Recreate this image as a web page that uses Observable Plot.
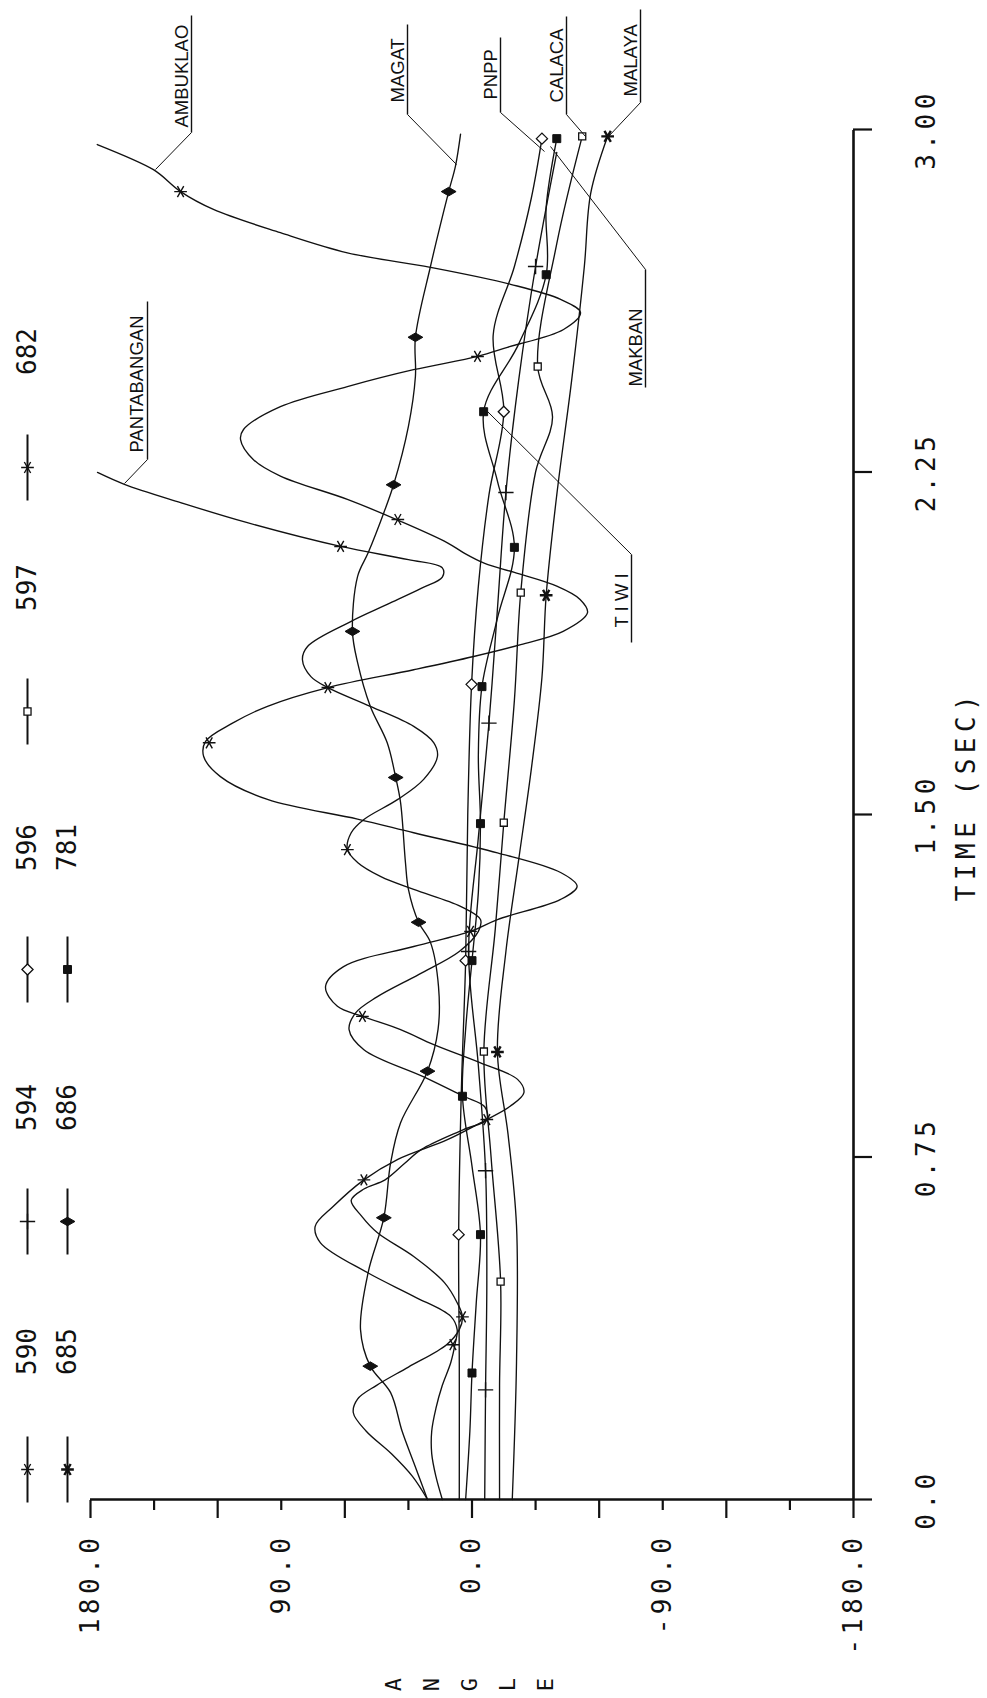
<!DOCTYPE html>
<html><head><meta charset="utf-8">
<script src="https://cdn.jsdelivr.net/npm/d3@7"></script>
<script src="https://cdn.jsdelivr.net/npm/@observablehq/plot@0.6"></script>
<style>
html,body{margin:0;padding:0;background:#fff;overflow:hidden;width:987px;height:1698px;}
#rot{position:absolute;left:0;top:0;width:1698px;height:987px;transform-origin:0 0;transform:translateY(1698px) rotate(-90deg);}
</style></head><body><div id="rot"></div>
<script>
// ---------------- data (time in s, rotor angle in degrees) ----------------
const t590 = [0,0.05,0.1,0.15,0.2,0.25,0.3,0.34,0.372,0.401,0.445,0.497,0.562,0.598,0.642,0.7,0.745,0.788,0.825,0.861,0.891,0.92,0.956,0.996,1.029,1.058,1.08,1.123,1.167,1.211,1.244,1.27,1.314,1.343,1.373,1.416,1.46,1.49,1.533,1.583,1.627,1.66,1.7,1.737,1.778,1.817,1.846,1.872,1.901,1.942,1.971,2.0,2.03,2.05,2.073,2.095,2.142,2.19,2.241,2.277,2.321,2.343,2.393,2.437,2.474,2.503,2.523,2.562,2.599,2.628,2.661,2.698,2.73,2.774,2.825,2.864,2.912,2.967];
const a590 = [14,17,19,19,17,14,10,8,7,10,27.5,49.4,71.5,74,65.4,51,35,11.6,-4,-18,-24.5,-21.5,-4,18,33.7,51.7,63.5,69.1,60.6,27.5,0.7,-12,-41.8,-49.6,-41.8,-12,27.5,54,96.5,118.7,126.6,125.7,113,96.5,68,27.5,-0.8,-23,-43,-54.5,-51,-40,-20,-6,3.9,11.6,33.7,58.8,90.4,103.1,109.2,107.8,90.4,58.8,27.6,-2.6,-16.7,-43.2,-51.2,-41.8,-18.2,19.6,58.8,90.4,122,137.5,150.3,176.8];
const m590 = [[0.339,9],[0.70,51],[1.058,51.7],[1.423,58.8],[1.778,68],[2.146,35],[2.503,-2.6],[2.864,137.5]];

const t682 = [0,0.05,0.1,0.15,0.19,0.22,0.25,0.29,0.339,0.372,0.4,0.431,0.475,0.532,0.584,0.62,0.655,0.68,0.7,0.735,0.766,0.81,0.832,0.86,0.883,0.926,0.985,1.029,1.065,1.1,1.15,1.2,1.244,1.27,1.299,1.336,1.364,1.395,1.423,1.46,1.489,1.533,1.577,1.627,1.657,1.693,1.737,1.778,1.802,1.839,1.868,1.923,1.96,1.995,2.02,2.04,2.058,2.087,2.139,2.183,2.223,2.249];
const a682 = [21,28,38,50,56,54,45,30,12,6,4.5,7,13,27.5,44.6,52,57,51,41,32,24,4,-7,-6,4,23,51,58,55,45,25,6,-3,-4,5.4,27.5,43,54,58.8,57,51,35,22.8,16.3,18,27.5,48,68,76,80,77.6,57,40,24,14,14,30,62,106,137.5,164,176.7];
const m682 = [[0.4,4.5],[0.832,-7],[1.244,0.7],[1.657,124],[2.087,62]];

const t686 = [0,0.081,0.15,0.234,0.292,0.372,0.497,0.617,0.737,0.825,0.938,1.03,1.123,1.22,1.264,1.336,1.395,1.526,1.581,1.657,1.737,1.833,1.901,2.021,2.073,2.161,2.222,2.35,2.459,2.545,2.7,2.864,2.92,2.99];
const a686 = [21,27.5,33,38.4,48,52.6,49,41.6,38.4,33.7,21,16,15.8,19.6,25.2,30,31.4,33.7,36,40,48,54,56.4,54,49,41.6,37,30,26.7,26.7,19.6,11,7.8,5.4];
const m686 = [[0.292,48],[0.617,41.6],[0.938,21],[1.264,25.2],[1.581,36],[1.901,56.4],[2.222,37],[2.545,26.7],[2.864,11]];

const t781 = [0,0.15,0.277,0.43,0.58,0.73,0.883,1.03,1.18,1.33,1.48,1.63,1.78,1.93,2.085,2.23,2.382,2.53,2.682,2.83,2.98];
const a781 = [3,1,0,-2,-4,0,4.5,3,0,-3,-4,-3,-4.7,-12,-20,-12,-5.5,-22,-35,-35,-40];
const m781 = [[0.277,0],[0.58,-4],[0.883,4.5],[1.18,0],[1.48,-4],[1.78,-4.7],[2.085,-20],[2.382,-5.5],[2.682,-35],[2.98,-40]];

const t596 = [0,0.3,0.58,0.9,1.18,1.5,1.785,2.0,2.2,2.382,2.55,2.7,2.85,2.98];
const a596 = [6,6,6.3,5,3,2,0.2,-3,-8,-15,-10,-20,-28,-33];
const m596 = [[0.58,6.3],[1.18,3],[1.785,0.2],[2.382,-15],[2.98,-33]];

const t597 = [0,0.25,0.477,0.75,0.981,1.25,1.482,1.75,1.986,2.25,2.37,2.481,2.75,2.985];
const a597 = [-13,-13,-13.5,-9,-5.6,-11,-15,-20,-23,-30,-38,-31,-40,-52];
const m597 = [[0.477,-13.5],[0.981,-5.6],[1.482,-15],[1.986,-23],[2.481,-31],[2.985,-52]];

const t594 = [0,0.24,0.48,0.72,0.95,1.2,1.45,1.7,1.95,2.205,2.45,2.7,2.95];
const a594 = [-6,-6.4,-7,-6.4,-3,1.6,-3,-8,-12,-16,-22,-30,-40];
const m594 = [[0.24,-6.4],[0.72,-6.4],[1.2,1.6],[1.7,-8],[2.205,-16],[2.7,-30]];

const t685 = [0,0.3,0.6,0.8,0.98,1.2,1.4,1.6,1.8,1.98,2.2,2.45,2.7,2.86,2.985];
const a685 = [-19,-21,-21,-17,-12,-16,-22,-28,-33,-35,-40,-47,-53,-56,-64];
const m685 = [[0.98,-12],[1.98,-35],[2.985,-64]];

const timeTicks = [0,0.75,1.5,2.25,3];
const timeTickLabels = ["0.0","0.75","1.50","2.25","3.00"];
const angleMajorTicks = [180,120,60,0,-60,-120,-180];
const angleMinorTicks = [150,90,30,-30,-90,-150];
const angleLabelTicks = [180,90,0,-90,-180];
const angleTickLabels = ["180.0","90.0","0.0","-90.0","-180.0"];

// ---------------- layout (unrotated frame, rotated by CSS) ----------------
const W = 1698, H = 987;
const mL = 198, mR = 130, mT = 90, mB = 134;
const tOf = u => (u - mL) / (W - mL - mR) * 3;
const aOf = v => 180 - (v - mT) / (H - mT - mB) * 360;

const series = [
  {id:"590", t:t590, a:a590, m:m590, symbol:"asterisk", fill:"none", sw:1.4, r:6},
  {id:"594", t:t594, a:a594, m:m594, symbol:"plus", fill:"none", sw:1.4, r:5},
  {id:"596", t:t596, a:a596, m:m596, symbol:"diamond2", fill:"white", sw:1.3, r:5},
  {id:"597", t:t597, a:a597, m:m597, symbol:"square2", fill:"white", sw:1.3, r:4.5},
  {id:"682", t:t682, a:a682, m:m682, symbol:"asterisk", fill:"none", sw:1.4, r:6},
  {id:"685", t:t685, a:a685, m:m685, symbol:"asterisk", fill:"none", sw:2.4, r:6},
  {id:"686", t:t686, a:a686, m:m686, symbol:"diamond", fill:"#111", sw:1, r:4.5},
  {id:"781", t:t781, a:a781, m:m781, symbol:"square", fill:"#111", sw:1, r:4.5}
];
const byId = Object.fromEntries(series.map(s => [s.id, s]));
const rows = series.flatMap(s => s.t.map((t, i) => ({id: s.id, t, a: s.a[i]})));

// legend layout (pixel positions in the unrotated frame)
const legendItems = [
  {id:"590", col:0, row:0}, {id:"685", col:0, row:1},
  {id:"594", col:1, row:0}, {id:"686", col:1, row:1},
  {id:"596", col:2, row:0}, {id:"781", col:2, row:1},
  {id:"597", col:3, row:0}, {id:"682", col:4, row:0}
];
const legMarkU = [228, 476, 728, 986, 1230];
const legLabelU = [346, 590, 850, 1110, 1346];
const legRowV = [27, 67];

// curve name labels (pixel positions in the unrotated frame)
const labels = [
  {name:"AMBUKLAO", tu:1570, tv:187, ul:[1565,1682,191], ld:[1565,191,1528,155]},
  {name:"MAGAT", tu:1595, tv:403, ul:[1583,1673,407], ld:[1583,407,1533,456]},
  {name:"PNPP", tu:1598, tv:496, ul:[1585,1660,500], ld:[1585,500,1546,544]},
  {name:"CALACA", tu:1595, tv:562, ul:[1583,1681,566], ld:[1583,566,1561,585]},
  {name:"MALAYA", tu:1601, tv:636, ul:[1595,1688,640], ld:[1595,640,1561,608]},
  {name:"MAKBAN", tu:1311, tv:641, ul:[1310,1428,645], ld:[1428,645,1551,550]},
  {name:"PANTABANGAN", tu:1245, tv:142, ul:[1238,1396,147], ld:[1238,147,1214,124]},
  {name:"T I W I", tu:1070, tv:627, ul:[1055,1143,631], ld:[1143,631,1286,487]}
];

const monoFont = "DejaVu Sans Mono, monospace";
const sansFont = "Liberation Sans, Arial, sans-serif";
const ink = "#111";
const timeTitle = "TIME (SEC)";

const marks = [];
// axes lines
marks.push(Plot.ruleX([0], {y1: -180, y2: 180, stroke: ink, strokeWidth: 2.6}));
marks.push(Plot.ruleY([-180], {x1: 0, x2: 3, stroke: ink, strokeWidth: 2.6}));
// axes ticks / labels
marks.push(Plot.axisX(timeTicks, {tickSize: 19, tickPadding: 44, tickFormat: (d, i) => timeTickLabels[i], label: null, fontSize: 26, fontFamily: monoFont, strokeWidth: 2.2}));
marks.push(Plot.axisY(angleMajorTicks, {tickSize: 18, tickFormat: () => "", label: null, strokeWidth: 2.2}));
marks.push(Plot.axisY(angleMinorTicks, {tickSize: 10, tickFormat: () => "", label: null, strokeWidth: 2.2}));
marks.push(Plot.axisY(angleLabelTicks, {tickSize: 0, tickPadding: 34, tickFormat: (d, i) => angleTickLabels[i], label: null, fontSize: 26, fontFamily: monoFont}));
// axis titles
marks.push(Plot.text([timeTitle], {x: tOf(902), y: aOf(966), text: d => d, fontSize: 26, fontFamily: monoFont, textAnchor: "middle", fill: ink}));
marks.push(Plot.text("ANGLE".split(""), {x: tOf(13), y: (d, i) => aOf(393 + i * 38), text: d => d, fontSize: 22, fontFamily: monoFont, textAnchor: "middle", fill: ink}));
// curves
marks.push(Plot.line(rows, {x: "t", y: "a", z: "id", curve: "catmull-rom", stroke: ink, strokeWidth: 1.35}));
// markers
for (const s of series) {
  marks.push(Plot.dot(s.m, {x: d => d[0], y: d => d[1], symbol: s.symbol, r: s.r,
    stroke: ink, strokeWidth: s.sw, fill: s.fill}));
}
// legend
for (const it of legendItems) {
  const s = byId[it.id];
  const u = legMarkU[it.col], v = legRowV[it.row];
  marks.push(Plot.link([it], {x1: tOf(u - 33), x2: tOf(u + 33), y1: aOf(v), y2: aOf(v), stroke: ink, strokeWidth: 2}));
  marks.push(Plot.dot([it], {x: tOf(u), y: aOf(v), symbol: s.symbol, r: s.r, stroke: ink, strokeWidth: s.sw, fill: s.fill}));
  marks.push(Plot.text([it], {x: tOf(legLabelU[it.col]), y: aOf(v), text: d => d.id, fontSize: 26, fontFamily: monoFont, textAnchor: "middle", fill: ink}));
}
// curve labels, underlines and leaders
marks.push(Plot.text(labels, {x: d => tOf(d.tu), y: d => aOf(d.tv), text: "name", textAnchor: "start", lineAnchor: "bottom", fontSize: 18.5, fontFamily: sansFont, fill: ink}));
marks.push(Plot.link(labels, {x1: d => tOf(d.ul[0]), x2: d => tOf(d.ul[1]), y1: d => aOf(d.ul[2]), y2: d => aOf(d.ul[2]), stroke: ink, strokeWidth: 1.4}));
marks.push(Plot.link(labels, {x1: d => tOf(d.ld[0]), y1: d => aOf(d.ld[1]), x2: d => tOf(d.ld[2]), y2: d => aOf(d.ld[3]), stroke: ink, strokeWidth: 1}));

const chart = Plot.plot({
  width: W, height: H,
  marginLeft: mL, marginRight: mR, marginTop: mT, marginBottom: mB,
  x: {domain: [0, 3], label: null},
  y: {domain: [-180, 180], label: null},
  style: {background: "white", color: ink, overflow: "visible"},
  marks
});
document.getElementById("rot").appendChild(chart);
const svg = d3.select(chart);
svg.selectAll("g[aria-label='x-axis tick label'] text, g[aria-label='y-axis tick label'] text").attr("letter-spacing", "4.5px");
svg.selectAll("text").filter(function() { return this.textContent === timeTitle; }).attr("letter-spacing", "5.5px");
</script>
</body></html>
